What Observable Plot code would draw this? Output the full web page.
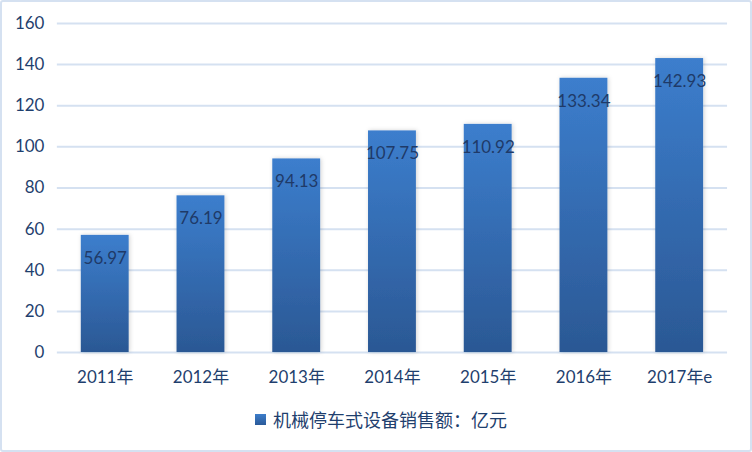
<!DOCTYPE html>
<html><head><meta charset="utf-8">
<script src="https://cdn.jsdelivr.net/npm/d3@7"></script>
<script src="https://cdn.jsdelivr.net/npm/@observablehq/plot@0.6"></script>
<style>
body{margin:0;background:#fff;}
#frame{position:relative;width:748px;height:448px;border:2px solid #d5e1f1;border-radius:3px;background:#fff;font-family:Lato,"Noto Sans CJK SC",sans-serif;overflow:hidden;}
#chart{position:absolute;left:-2px;top:-2px;}
#legend{position:absolute;left:0;right:0;top:404px;display:flex;justify-content:center;align-items:center;color:#1f3f6e;font-size:18px;font-family:"Noto Sans CJK SC",sans-serif;}
#legend .sw{width:11px;height:11px;background:linear-gradient(#3d7dca,#2a5a99);margin-right:7px;margin-left:10px;}
</style></head>
<body>
<div id="frame"><div id="chart"></div><div id="legend"><span class="sw"></span><span>机械停车式设备销售额：亿元</span></div></div>
<script>
const years = ["2011年","2012年","2013年","2014年","2015年","2016年","2017年e"];
const sales = [56.97,76.19,94.13,107.75,110.92,133.34,142.93];
const yTicks = [0,20,40,60,80,100,120,140,160];
const data = years.map((y,i)=>({year:y,value:sales[i]}));
const txt = "#1f3f6e";
const plot = Plot.plot({
  width:752, height:395,
  marginLeft:57, marginRight:23, marginTop:23, marginBottom:42,
  style:{fontFamily:"Lato, 'Noto Sans CJK SC', sans-serif", fontSize:"17px", color:txt, background:"transparent"},
  x:{domain:years, paddingInner:0.5, paddingOuter:0.25, label:null},
  y:{domain:[0,160], label:null},
  marks:[
    Plot.gridY(yTicks,{stroke:"#d5e1f1", strokeOpacity:1, strokeWidth:2}),
    Plot.barY(data,{x:"year", y:"value", fill:"url(#barGrad)", className:"bars"}),
    Plot.text(data,{x:"year", y:"value", text:d=>d.value.toFixed(2), dy:23, fill:"#1f3a68", fontSize:17}),
    Plot.axisY(yTicks,{tickSize:0, tickPadding:13, fill:txt, fontSize:17, label:null}),
    Plot.axisX({tickSize:0, tickPadding:18, fill:txt, fontSize:17, label:null})
  ]
});
const defs = d3.select(plot).insert("defs",":first-child");
const g = defs.append("linearGradient").attr("id","barGrad").attr("x1",0).attr("y1",0).attr("x2",0).attr("y2",1);
g.append("stop").attr("offset","0%").attr("stop-color","#3c7ecd");
g.append("stop").attr("offset","100%").attr("stop-color","#2b5894");
const f = defs.append("filter").attr("id","shadow").attr("x","-20%").attr("y","-5%").attr("width","140%").attr("height","110%");
f.append("feDropShadow").attr("dx",1).attr("dy",0).attr("stdDeviation",2).attr("flood-color","#000").attr("flood-opacity",0.18);
d3.select(plot).selectAll("g.bars rect").attr("filter","url(#shadow)");
document.getElementById("chart").appendChild(plot);
</script>
</body></html>
